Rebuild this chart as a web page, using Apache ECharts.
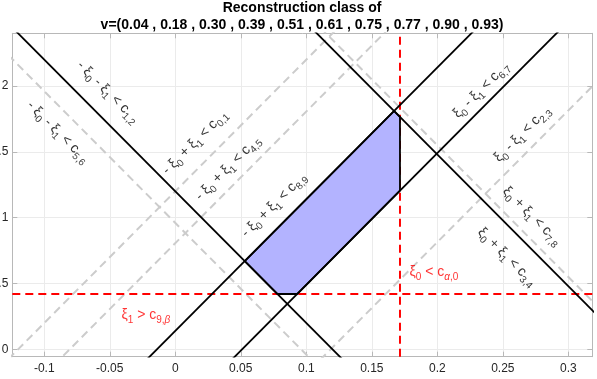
<!DOCTYPE html>
<html><head><meta charset="utf-8">
<script src="https://cdn.jsdelivr.net/npm/echarts@6/dist/echarts.min.js"></script>
<style>html,body{margin:0;padding:0;background:#fff}#c{width:597px;height:379px}</style>
</head><body><div id="c"></div>
<script>
// ---------- data ----------
const titleLines = ['Reconstruction class of',
  'v=(0.04 , 0.18 , 0.30 , 0.39 , 0.51 , 0.61 , 0.75 , 0.77 , 0.90 , 0.93)'];
const xRange = [-0.1244, 0.3183];
const yRange = [-0.056, 2.40];
// boundary lines: xi1 = slope * xi0 + intercept
const blackSlopes     = [-10, -10, 10, 10];
const blackIntercepts = [1.20, 3.48, 0.14, -0.51];
const graySlopes      = [-10, -10, 10, 10, 10];
const grayIntercepts  = [0.96, 3.55, 1.20, 0.806, -1.186];
const cAlpha0 = 0.1715;  // vertical threshold  xi0 < c_{alpha,0}
const c9Beta  = 0.42;    // horizontal threshold xi1 > c_{9,beta}
// annotations
const labelTexts = [
  '- {n|ξ}{s|0} - {n|ξ}{s|1} < {n|c}{s|1,2}',
  '- {n|ξ}{s|0} - {n|ξ}{s|1} < {n|c}{s|5,6}',
  '- {n|ξ}{s|0} + {n|ξ}{s|1} < {n|c}{s|0,1}',
  '- {n|ξ}{s|0} + {n|ξ}{s|1} < {n|c}{s|4,5}',
  '- {n|ξ}{s|0} + {n|ξ}{s|1} < {n|c}{s|8,9}',
  '{n|ξ}{s|0} - {n|ξ}{s|1} < {n|c}{s|6,7}',
  '{n|ξ}{s|0} - {n|ξ}{s|1} < {n|c}{s|2,3}',
  '{n|ξ}{s|0} + {n|ξ}{s|1} < {n|c}{s|7,8}',
  '{n|ξ}{s|0} + {n|ξ}{s|1} < {n|c}{s|3,4}'
];
const labelX     = [-0.0514, -0.0895, 0.0150, 0.0402, 0.0753, 0.2334, 0.2647, 0.2723, 0.2532];
const labelY     = [1.954, 1.650, 1.573, 1.376, 1.096, 1.969, 1.635, 1.012, 0.701];
const labelAngle = [-45, -45, 45, 45, 45, 45, 45, -45, -45];
const redTexts = ['{n|ξ}{s|0} < {n|c}{si|α}{s|,0}', '{n|ξ}{s|1} > {n|c}{s|9,}{si|β}'];
const redX = [0.1784, -0.0415];
const redY = [0.587, 0.260];

// ---------- derived geometry ----------
function seg(s, b) { const x0 = xRange[0] - 0.01, x1 = xRange[1] + 0.01; return [[x0, s * x0 + b], [x1, s * x1 + b]]; }
function cross(i, j) { const x = (blackIntercepts[j] - blackIntercepts[i]) / (blackSlopes[i] - blackSlopes[j]); return [x, blackSlopes[i] * x + blackIntercepts[i]]; }
function atX(i, x) { return [x, blackSlopes[i] * x + blackIntercepts[i]]; }
function atY(i, y) { return [(y - blackIntercepts[i]) / blackSlopes[i], y]; }
const polygon = [cross(0, 2), cross(2, 1), atX(1, cAlpha0), atX(3, cAlpha0), atY(3, c9Beta), atY(0, c9Beta)];

const FONT = 'Liberation Sans, Arial, Helvetica, sans-serif';
const axisGray = '#b8b8b8';
const series = [];
graySlopes.forEach((s, i) => series.push({
  type: 'line', data: seg(s, grayIntercepts[i]), symbol: 'none', clip: true, z: 2, silent: true,
  lineStyle: { color: '#cccccc', width: 2, type: [8, 5] }
}));
series.push({ type: 'line', data: [[cAlpha0, yRange[0]], [cAlpha0, yRange[1]]], symbol: 'none', z: 3,
  lineStyle: { color: '#ff0000', width: 2, type: [8, 5] } });
series.push({ type: 'line', data: [[xRange[0], c9Beta], [xRange[1], c9Beta]], symbol: 'none', z: 3,
  lineStyle: { color: '#ff0000', width: 2, type: [8, 5] } });
series.push({ type: 'custom', z: 4, data: [[0, 0]],
  renderItem: (p, api) => ({ type: 'polygon', shape: { points: polygon.map(v => api.coord(v)) },
    style: { fill: '#b3b3ff', stroke: '#000', lineWidth: 1.8, lineJoin: 'miter' } }) });
blackSlopes.forEach((s, i) => series.push({
  type: 'line', data: seg(s, blackIntercepts[i]), symbol: 'none', clip: true, z: 5,
  lineStyle: { color: '#000', width: 1.8 }
}));
const rich = (col) => ({
  n: { fontSize: 14, color: col, fontFamily: FONT, lineHeight: 20 },
  s: { fontSize: 10, color: col, fontFamily: FONT, lineHeight: 10, verticalAlign: 'bottom' },
  si: { fontSize: 10, color: col, fontFamily: FONT, lineHeight: 10, verticalAlign: 'bottom', fontStyle: 'italic' }
});
series.push({ type: 'scatter', z: 6, symbolSize: 1, itemStyle: { color: 'transparent' }, silent: true,
  data: labelTexts.map((t, i) => ({ value: [labelX[i], labelY[i]],
    label: { show: true, position: 'inside', rotate: labelAngle[i], formatter: t, fontSize: 14, color: '#000',
      fontFamily: FONT, lineHeight: 20, rich: rich('#000') } })) });
series.push({ type: 'scatter', z: 6, symbolSize: 1, itemStyle: { color: 'transparent' }, silent: true,
  data: redTexts.map((t, i) => ({ value: [redX[i], redY[i]],
    label: { show: true, position: 'right', distance: 0, formatter: t, fontSize: 14, color: '#ff0000',
      fontFamily: FONT, lineHeight: 20, rich: rich('#ff0000') } })) });

const baseAxis = (pos, isX, main) => ({
  type: 'value', position: pos, min: isX ? xRange[0] : yRange[0], max: isX ? xRange[1] : yRange[1],
  splitNumber: isX ? 9 : 5,
  axisLine: { show: true, onZero: false, lineStyle: { color: axisGray, width: 1 } },
  axisTick: { show: true, inside: true, length: 5, lineStyle: { color: axisGray } },
  splitLine: { show: main, lineStyle: { color: '#ebebeb', width: 1 } },
  axisLabel: { show: main, showMinLabel: false, showMaxLabel: false, color: '#262626', fontSize: 12,
    fontFamily: FONT, margin: isX ? 6 : 4, hideOverlap: false }
});

const chart = echarts.init(document.getElementById('c'), null, { renderer: 'canvas' });
chart.setOption({
  animation: false,
  textStyle: { fontFamily: FONT },
  grid: { left: 12.3, right: 4.7, top: 33.3, bottom: 22.3, containLabel: false, outerBoundsMode: 'none', show: false },
  xAxis: [baseAxis('bottom', true, true), baseAxis('top', true, false)],
  yAxis: [baseAxis('left', false, true), baseAxis('right', false, false)],
  graphic: titleLines.map((t, i) => ({ type: 'text', x: 302, y: 8.5 + 17 * i, silent: true,
    style: { text: t, align: 'center', verticalAlign: 'middle', fontSize: 14, fontWeight: 'bold',
      fontFamily: FONT, fill: '#000' } })),
  series: series
});
</script></body></html>
